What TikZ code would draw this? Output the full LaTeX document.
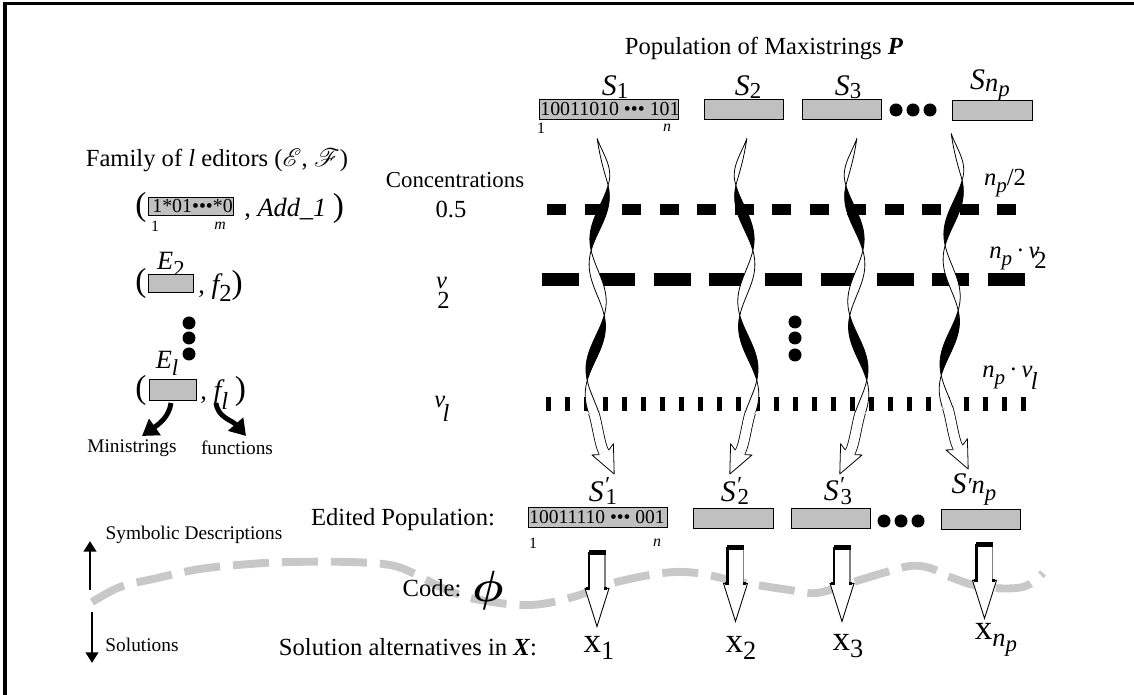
\documentclass[tikz,border=0pt]{standalone}
\usepackage{fontspec}
\setmainfont{Liberation Serif}
\usepackage{mathrsfs}
\usetikzlibrary{arrows.meta}

\definecolor{strfill}{RGB}{192,192,192}
\definecolor{codeline}{RGB}{200,200,200}

\newcommand{\fs}[1]{\fontsize{#1}{#1}\selectfont}
\newcommand{\dsub}[3]{\raisebox{-#1}{\fs{#2}#3}}
\newcommand{\npsub}[2]{{\itshape n}\dsub{#1}{#2}{\itshape p}}
\newcommand{\primed}[1]{{\fs{17}\itshape S}\rlap{\raisebox{5pt}{\fs{13}\itshape ′}}\kern1pt\dsub{2pt}{13}{#1}}
\def\px{0.02cm}

\tikzset{
  declare function={
    tph(\t)=2.76923*(\t-14.5);
    tcx(\t)=1-0.03*\t+7.5*sin(tph(\t));
    thw(\t)=5.2*min(1,\t/40)*cos(tph(\t));
  },
  lbl/.style={inner sep=0pt, font=\fs{14}},
  small/.style={inner sep=0pt, font=\fs{11}},
  idx/.style={inner sep=0pt, font=\fs{9}},
  bits/.style={inner sep=0pt, font=\fs{11.3}, anchor=west},
  strbox/.style={draw=black, fill=strfill, line width=0.5pt, inner sep=0pt},
  bullet/.style={circle, fill=black, inner sep=0pt, minimum size=13*\px},
  outline/.style={draw=black, line width=0.45pt, line join=round},
  bigarrow/.style={line width=2.8pt, -{Triangle[length=9pt,width=11pt]}},
  sidearrow/.style={line width=1.7pt, -{Triangle[length=6pt,width=7pt]}},
  % twisted ribbon arrow, origin at its upper tip
  twist/.pic={
    \foreach \ta/\tb/\tf in {0/47/white,47/112/black,112/177/white,177/242/black}{
      \path[outline, fill=\tf]
        plot[domain=\ta:\tb, samples=24, variable=\t] ({tcx(\t)+thw(\t)},\t)
        -- plot[domain=\tb:\ta, samples=24, variable=\t] ({tcx(\t)-thw(\t)},\t) -- cycle;
    }
    \draw[line width=6.3pt] (-7.4,274) .. controls (-3.7,285.4) and (-1.5,306) .. (3,314);
    \draw[white, line width=5.4pt] (-7.4,274) .. controls (-3.7,285.4) and (-1.5,306) .. (3,314);
    \fill[white] plot[domain=242:274.5, samples=12, variable=\t] ({tcx(\t)+thw(\t)},\t)
        -- plot[domain=274.5:242, samples=12, variable=\t] ({tcx(\t)-thw(\t)},\t) -- cycle;
    \draw[outline] plot[domain=242:274, samples=12, variable=\t] ({tcx(\t)+thw(\t)},\t);
    \draw[outline] plot[domain=242:274, samples=12, variable=\t] ({tcx(\t)-thw(\t)},\t);
    \path[outline, fill=white] (7.7,311.7) -- (12.4,305.3) -- (13.2,335.6)
        -- (-9.1,316.5) -- (-1.7,316.3);
  },
  % block arrow of the coding step, origin at the top of its shaft
  codearrow/.pic={
    \fill[white] (-8,0) -- (8,0) -- (8,36) -- (12,36) -- (0,74) -- (-12,36) -- (-8,36) -- cycle;
    \draw[line width=0.5pt, line join=miter] (8,36) -- (12,36) -- (0,74) -- (-12,36) -- (-8,36);
    \draw[gray, line width=0.7pt] (8,0) -- (8,36);
    \draw[line width=1.3pt] (-8,0) -- (-8,37);
    \fill (-8.5,-2) rectangle (8.5,3);
    \fill (-11,34.5) rectangle (-7,38);
    \fill (7,34.5) rectangle (10,38);
  },
}

\begin{document}
\begin{tikzpicture}[x=\px, y=-\px]
\useasboundingbox (0,0) rectangle (1134,695);
\fill[white] (0,0) rectangle (1134,695);
% frame
\draw[line width=2.2pt] (4.7,700) -- (4.7,3.5) -- (1140,3.5);

% separation between symbolic descriptions and solutions
\draw[codeline, line width=4.5pt, dash pattern=on 20.5pt off 7.4pt]
  plot[smooth, tension=0.6] coordinates {(92,602) (120,587) (153,579) (200,569) (250,564)
  (290,562) (350,562) (390,565) (413,573) (447,590) (480,600) (530,605) (573,597)
  (613,583) (663,573) (697,573) (730,580) (757,585) (790,590) (817,593) (850,583)
  (883,573) (910,566) (930,568) (950,577) (983,587) (1023,587) (1043,573)};

% concentration levels
\foreach \i in {0,...,12} \fill ({547+37.5*\i},204.5) rectangle ++(19,11);
\foreach \i in {0,...,8} \fill ({542+55.75*\i},273) rectangle ++(37,13);
\foreach \i in {0,...,25} \fill ({546+19*\i},397) rectangle ++(5,14);

% population of maxistrings
\node[lbl] (poptitle) at (764,49) {Population of Maxistrings \textbf{\textit{P}}};
\node[strbox, minimum width=139*\px, minimum height=20*\px] (s1) at (608.5,109) {};
\node[bits] (s1bits) at (540,109.5) {10011010 ••• 101};
\node[idx] (s1a) at (541,128) {1};
\node[idx, font=\fs{9}\itshape] (s1b) at (667,128) {n};
\node[strbox, minimum width=79*\px, minimum height=20*\px] (s2) at (743.5,109) {};
\node[strbox, minimum width=79*\px, minimum height=20*\px] (s3) at (841.5,109) {};
\node[strbox, minimum width=80*\px, minimum height=20*\px] (sn) at (992,110) {};
\node[bullet] (td1) at (896,110) {};
\node[bullet] (td2) at (913,110) {};
\node[bullet] (td3) at (930,110) {};
\node[lbl] (s1l) at (615,87) {{\fs{17}\itshape S}\dsub{2pt}{13}{1}};
\node[lbl] (s2l) at (748,87) {{\fs{17}\itshape S}\dsub{2pt}{13}{2}};
\node[lbl] (s3l) at (848,87) {{\fs{17}\itshape S}\dsub{2pt}{13}{3}};
\node[lbl] (snl) at (990,86) {{\fs{17}\itshape S}\dsub{1pt}{15}{\itshape n}\dsub{4pt}{13}{\itshape p}};

% family of editors
\node[lbl] (famtitle) at (217,160) {Family of \textit{l} editors ($\mathscr{E}$, $\mathscr{F}$)};
\node[lbl, font=\fs{19}] (p1l) at (141,207) {(};
\node[strbox, minimum width=85*\px, minimum height=18*\px] (e1) at (190.5,206) {};
\node[bits, font=\fs{11.3}] (e1bits) at (152,206.5) {1*01•••*0};
\node[idx] (e1a) at (155,226) {1};
\node[idx, font=\fs{9}\itshape] (e1b) at (220,226) {m};
\node[lbl, font=\fs{15}, anchor=west] (p1r) at (244,208) {, \textit{Add\_1} {\fs{19})}};
\node[lbl] (e2l) at (171,264) {{\fs{15}\itshape E}\dsub{4pt}{13}{2}};
\node[lbl, font=\fs{19}] (p2l) at (141,283) {(};
\node[strbox, minimum width=45*\px, minimum height=18*\px] (e2) at (170.5,283) {};
\node[lbl, font=\fs{15}, anchor=west] (p2r) at (198,286) {, {\fs{16}\itshape f}\dsub{5pt}{14}{2}{\fs{19})}};
\node[bullet] (ld1) at (189,323) {};
\node[bullet] (ld2) at (189,338) {};
\node[bullet] (ld3) at (189,354) {};
\node[lbl] (ell) at (167,363) {{\fs{15}\itshape E}\dsub{4pt}{13}{\itshape l}};
\node[lbl, font=\fs{19}] (p3l) at (141,390) {(};
\node[strbox, minimum width=47*\px, minimum height=21*\px] (el) at (172.5,389.5) {};
\node[lbl, font=\fs{15}, anchor=west] (p3r) at (200,393) {, {\fs{16}\itshape f}\dsub{6pt}{14}{\itshape l} {\fs{19})}};
\coordinate (ms0) at (171,403);
\coordinate (ms1) at (142,436);
\coordinate (fn0) at (216,403);
\coordinate (fn1) at (246,436);
\draw[bigarrow] (ms0) .. controls (169,417) and (159,424) .. (ms1);
\draw[bigarrow] (fn0) .. controls (218,418) and (232,420) .. (fn1);
\node[small] (mini) at (132,448) {Ministrings};
\node[small] (func) at (237,448) {functions};

% concentrations
\node[lbl, font=\fs{13}] (conc) at (455,180) {Concentrations};
\node[lbl] (c05) at (451,210) {0.5};
\node[lbl] (cv2) at (443,293) {{\itshape v}\kern-5.5pt\dsub{11pt}{14}{2}};
\node[lbl] (cvl) at (442,409) {{\itshape v}\kern-1.5pt\dsub{8pt}{14}{\itshape l}};
\node[lbl] (nhalf) at (1005,183) {\npsub{4pt}{12}/2};
\node[lbl] (nv2) at (1018,258) {\npsub{4pt}{12}\,·\,{\itshape v}\kern-3pt\dsub{6pt}{14}{2}};
\node[lbl] (nvl) at (1010,378) {\npsub{4pt}{12}\,·\,{\itshape v}\kern-1pt\dsub{7pt}{14}{\itshape l}};
\node[bullet] (md1) at (795,322) {};
\node[bullet] (md2) at (795,338) {};
\node[bullet] (md3) at (795,355) {};

% edited population
\node[lbl] (edtitle) at (403,520) {Edited Population:};
\node[strbox, minimum width=139*\px, minimum height=20*\px] (e1s) at (597.5,517) {};
\node[bits, font=\fs{11.1}] (e1sbits) at (529,517.5) {10011110 ••• 001};
\node[idx] (e1sa) at (533,543) {1};
\node[idx, font=\fs{9}\itshape] (e1sb) at (657,543) {n};
\node[strbox, minimum width=80*\px, minimum height=20*\px] (e2s) at (733,518) {};
\node[strbox, minimum width=79*\px, minimum height=20*\px] (e3s) at (830.5,518) {};
\node[strbox, minimum width=79*\px, minimum height=20*\px] (ens) at (980.5,519) {};
\node[bullet] (bd1) at (884,521) {};
\node[bullet] (bd2) at (901,521) {};
\node[bullet] (bd3) at (918,521) {};
\node[lbl] (e1l) at (603,491) {\primed{1}};
\node[lbl] (e2l2) at (735,491) {\primed{2}};
\node[lbl] (e3l) at (838,491) {\primed{3}};
\node[lbl] (enl) at (974,490) {{\fs{17}\itshape S}{\fs{13}\itshape ′}{\fs{15}\itshape n}\dsub{4pt}{13}{\itshape p}};

% twisted editing arrows
\pic at ([shift={(-7.5,19)}]s1.south) {twist};
\pic[xscale=-1] at ([shift={(-0.5,19)}]s2.south) {twist};
\pic[xscale=-1] at ([shift={(11.5,19)}]s3.south) {twist};
\pic at ([shift={(-37,13)}]sn.south) {twist};

% symbolic / solution sides
\coordinate (sd0) at (90,590);
\coordinate (sd1) at (90,541);
\coordinate (so0) at (92,612);
\coordinate (so1) at (92,663);
\draw[sidearrow] (sd0) -- (sd1);
\draw[sidearrow] (so0) -- (so1);
\node[small] (symb) at (194,535) {Symbolic Descriptions};
\node[small] (sols) at (142,645) {Solutions};
\node[lbl] (code) at (432,588) {Code:};
\node[inner sep=0pt] (phi) at (488,591) {\fs{28}{\boldmath$\phi$}};

% coding arrows
\pic at ([shift={(-0.5,25)}]e1s.south) {codearrow};
\pic at ([shift={(2.5,19)}]e2s.south) {codearrow};
\pic at ([shift={(11.5,19)}]e3s.south) {codearrow};
\pic at ([shift={(4,15)}]ens.south) {codearrow};

% solutions
\node[lbl] (soltitle) at (408,647) {Solution alternatives in \textbf{\textit{X}}:};
\node[lbl] (x1) at (599,648) {{\fs{20}x}\dsub{4pt}{15}{1}};
\node[lbl] (x2) at (741,648) {{\fs{20}x}\dsub{4pt}{15}{2}};
\node[lbl] (x3) at (848,646) {{\fs{20}x}\dsub{4pt}{15}{3}};
\node[lbl] (xn) at (996,640) {{\fs{20}x}\dsub{4pt}{15}{\itshape n}\dsub{7pt}{13}{\itshape p}};
\end{tikzpicture}
\end{document}
